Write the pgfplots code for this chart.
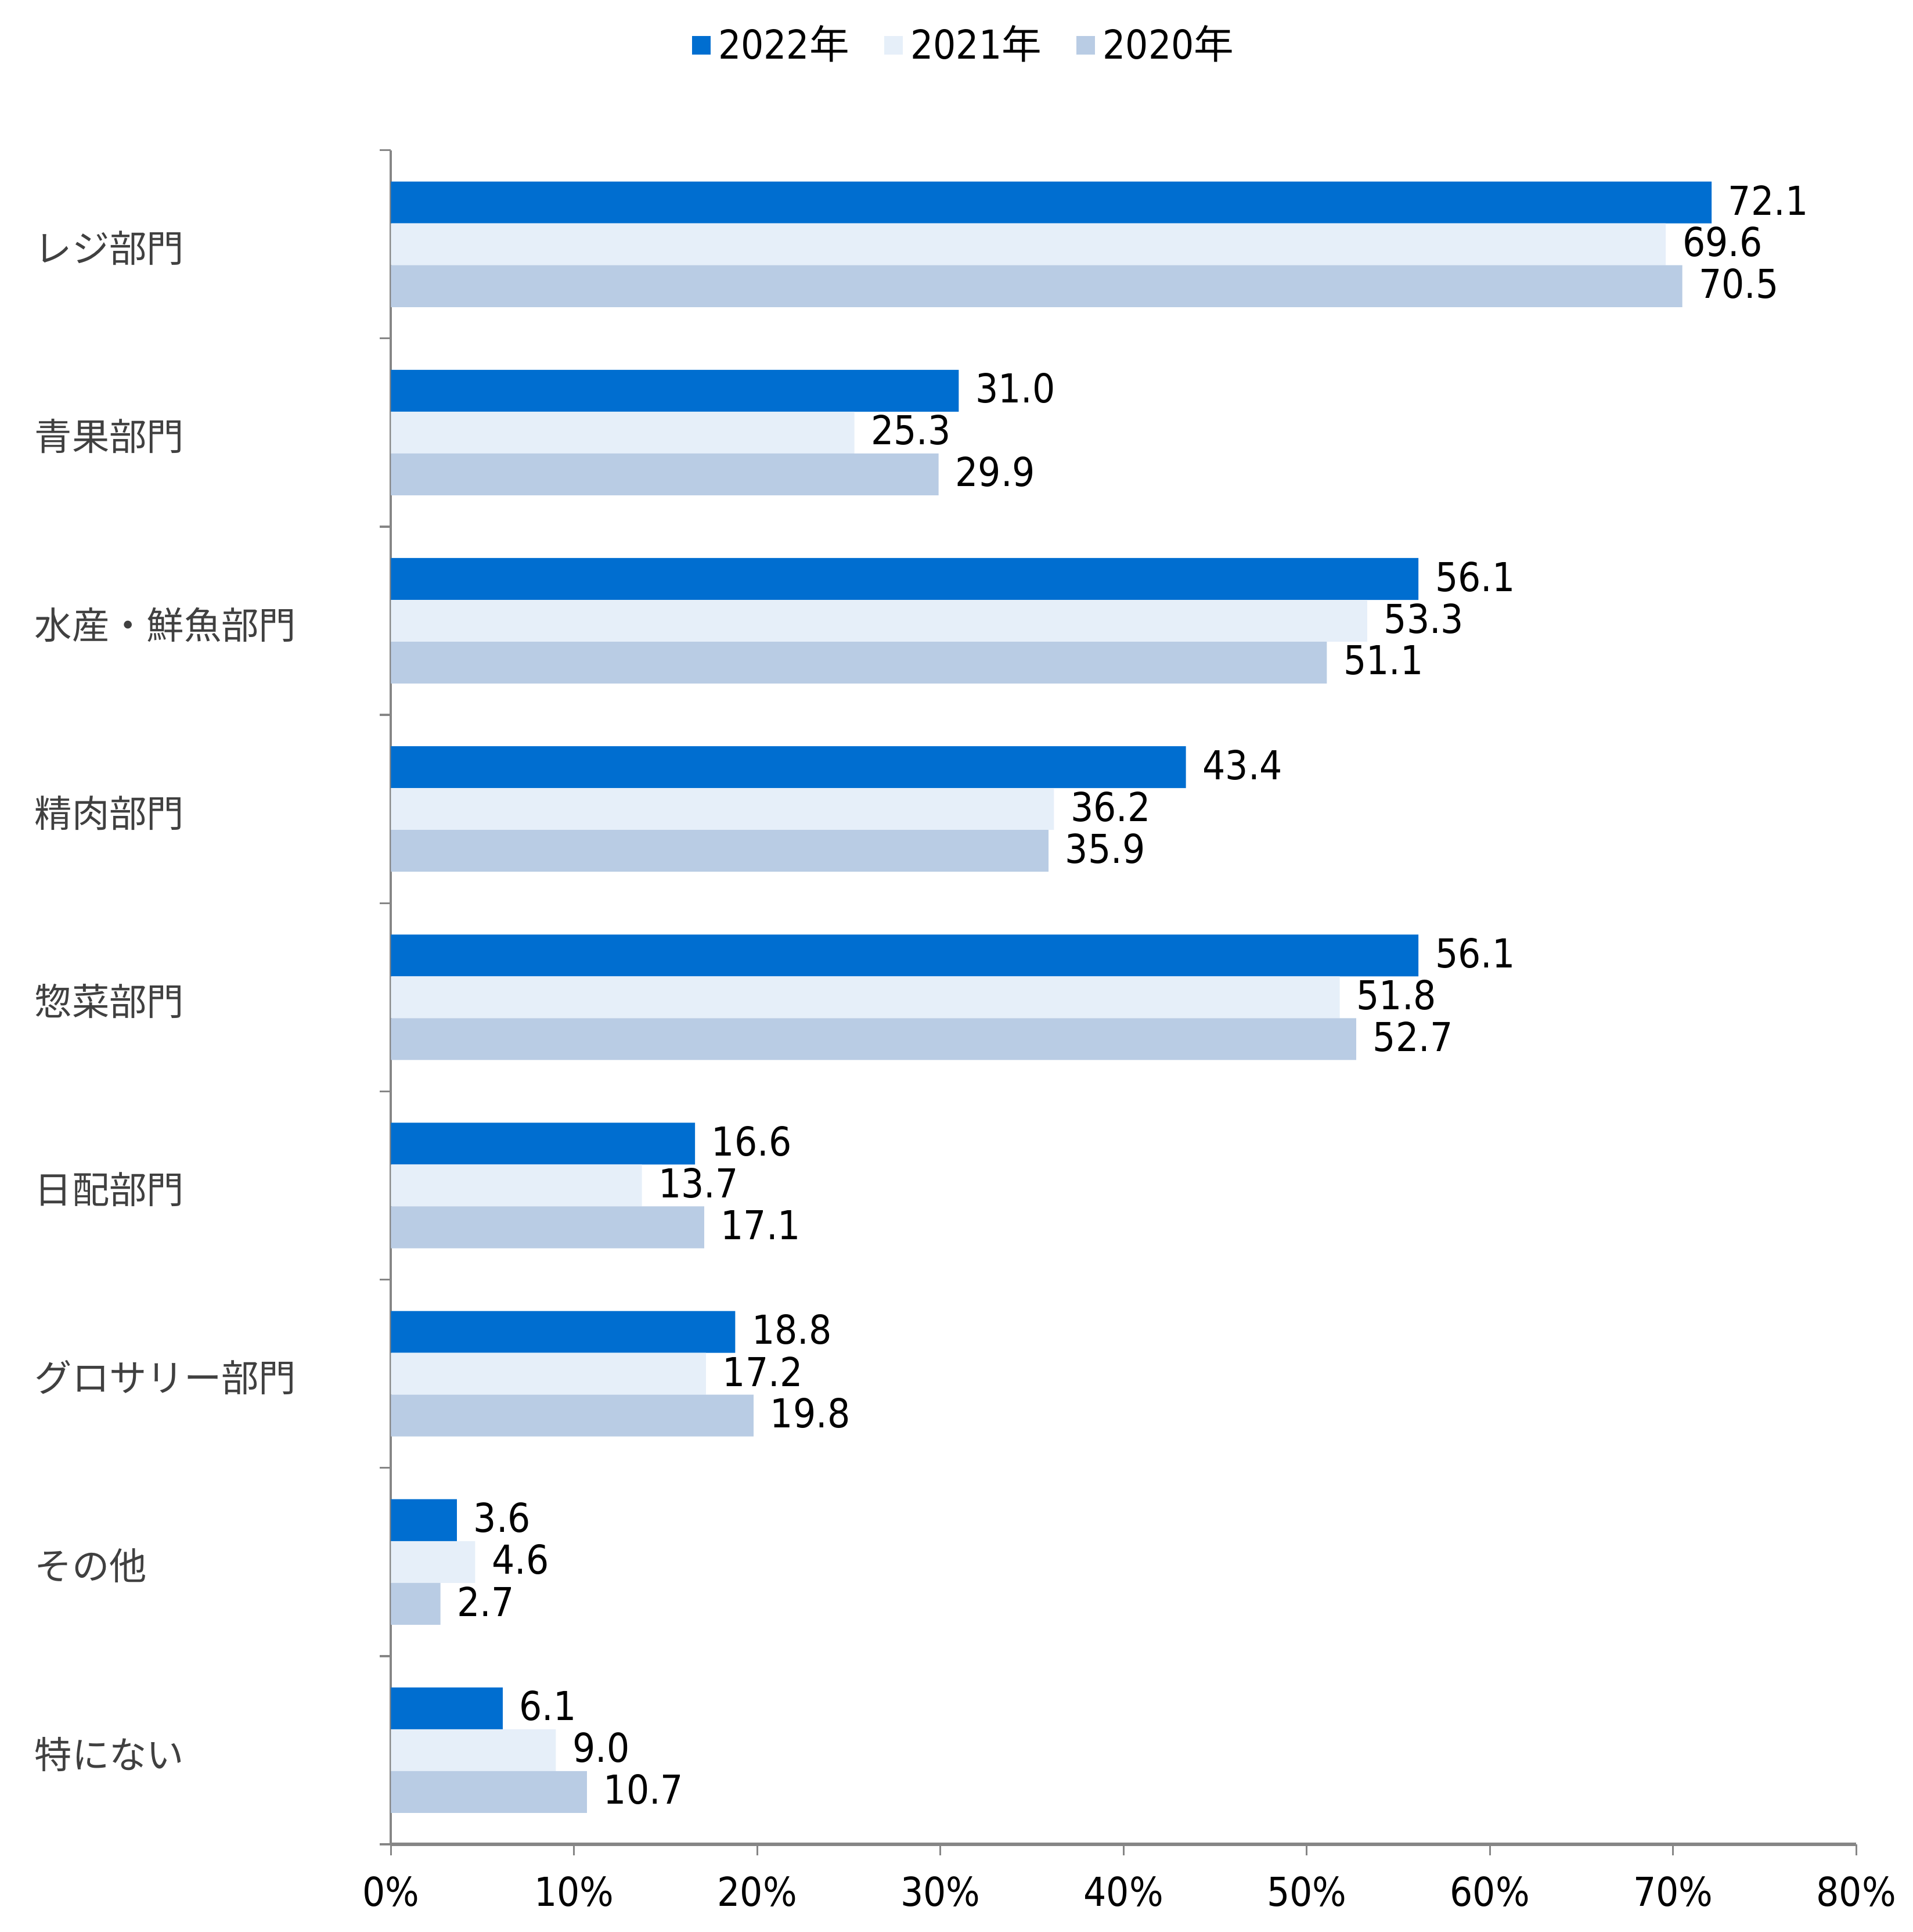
\documentclass[border=0pt]{standalone}
\usepackage{pgfplots}
\pgfplotsset{compat=1.18}
\usepackage{fontspec}
\setmainfont{DejaVu Sans Condensed}
\newfontfamily\cjk{Noto Sans CJK JP}
\definecolor{cA}{RGB}{0,110,208}
\definecolor{cB}{RGB}{230,239,249}
\definecolor{cC}{RGB}{185,204,228}
\definecolor{axisgray}{RGB}{134,134,134}
\definecolor{labgray}{RGB}{64,64,64}
\newcommand{\numfont}{\fontsize{10.3}{12}\selectfont}
\newcommand{\catfont}{\cjk\fontsize{9.65}{11}\selectfont}
\begin{document}
\begin{tikzpicture}
\useasboundingbox (0,0) rectangle (494.25pt,499.05pt);
\begin{axis}[
  at={(101pt,22.65pt)}, anchor=south west,
  scale only axis, width=378.6pt, height=437.6pt,
  xbar, bar width=0.2222,
  xmin=0, xmax=80, ymin=-0.5, ymax=8.5,
  enlargelimits=false,
  axis x line*=bottom, axis y line*=left,
  x axis line style={draw=axisgray, line width=1pt, -},
  y axis line style={draw=axisgray, line width=0.6pt, -},
  tick align=outside,
  major tick length=2.85pt,
  tick style={draw=axisgray, line width=0.5pt},
  xtick={0,10,...,80},
  xticklabel={\pgfmathprintnumber{\tick}\%},
  xticklabel style={font=\numfont, text=black, yshift=-2pt},
  /pgf/number format/assume math mode=true,
  ytick={-0.5,0.5,...,8.5},
  yticklabels={},
  extra y ticks={0,1,2,3,4,5,6,7,8},
  extra y tick labels={特にない,その他,グロサリー部門,日配部門,惣菜部門,精肉部門,水産・鮮魚部門,青果部門,レジ部門},
  extra y tick style={major tick length=0pt,
    yticklabel style={anchor=west, inner xsep=0pt, xshift=-92.2pt, yshift=-1pt, font=\catfont, text=labgray}},
  nodes near coords,
  nodes near coords style={font=\numfont, text=black, anchor=west, xshift=0.8pt, yshift=0.6pt,
    /pgf/number format/.cd, fixed, fixed zerofill, precision=1},
  legend image code/.code={\fill[#1,draw=none] (0pt,-2.4pt) rectangle (4.8pt,2.4pt);},
  legend style={at={(0.393,1.062)}, anchor=center, draw=none, fill=none,
    legend columns=3, font=\numfont,
    /tikz/every even column/.append style={column sep=7pt}},
]
\addplot[fill=cA, draw=none, bar shift=0.2222] coordinates {
  (6.1,0) (3.6,1) (18.8,2) (16.6,3) (56.1,4) (43.4,5) (56.1,6) (31.0,7) (72.1,8)};
\addplot[fill=cB, draw=none, bar shift=0] coordinates {
  (9.0,0) (4.6,1) (17.2,2) (13.7,3) (51.8,4) (36.2,5) (53.3,6) (25.3,7) (69.6,8)};
\addplot[fill=cC, draw=none, bar shift=-0.2222] coordinates {
  (10.7,0) (2.7,1) (19.8,2) (17.1,3) (52.7,4) (35.9,5) (51.1,6) (29.9,7) (70.5,8)};
\legend{2022{\cjk 年},2021{\cjk 年},2020{\cjk 年}}
\end{axis}
\end{tikzpicture}
\end{document}
